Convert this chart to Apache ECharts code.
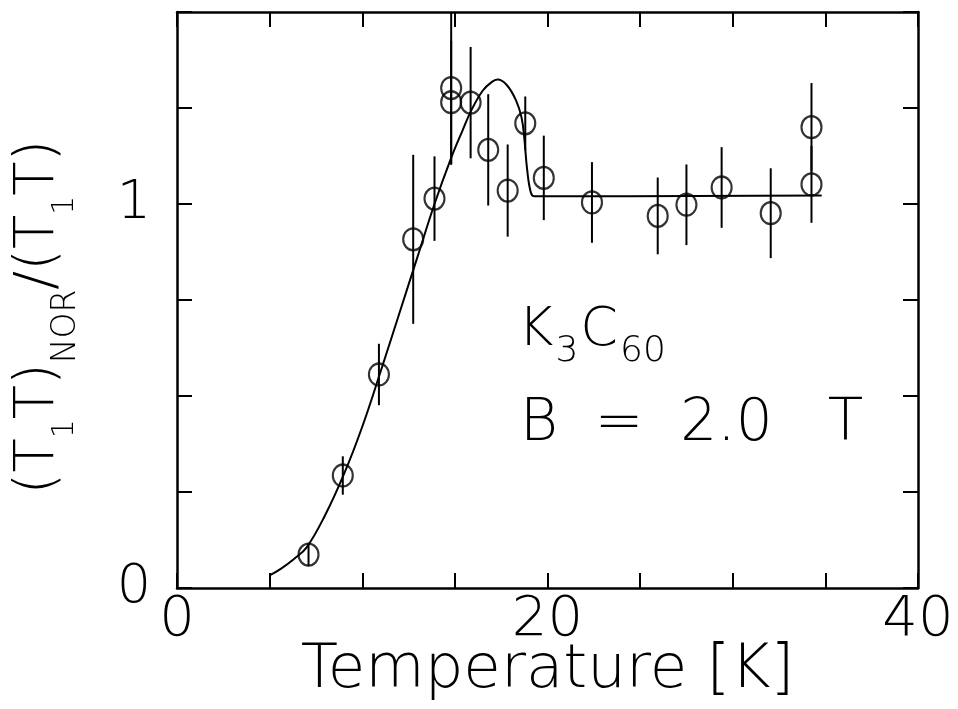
<!DOCTYPE html>
<html>
<head>
<meta charset="utf-8">
<script src="https://cdn.jsdelivr.net/npm/echarts@6/dist/echarts.min.js"></script>
<style>
  html, body { margin: 0; padding: 0; background: #fff; }
  #chart { width: 958px; height: 709px; }
</style>
</head>
<body>
<div id="chart"></div>
<script>
// measured points: temperature [K], (T1T)nor/(T1T), error half-length
var temps = [7.1, 8.95, 10.9, 12.75, 13.9, 14.8, 14.8, 15.85, 16.8, 17.85, 18.8, 19.8, 22.4, 25.95, 27.5, 29.4, 32.05, 34.25, 34.25]
var ratio = [0.087, 0.293, 0.556, 0.908, 1.014, 1.302, 1.265, 1.264, 1.141, 1.035, 1.21, 1.068, 1.004, 0.969, 0.998, 1.043, 0.976, 1.2, 1.051]
var errs  = [0.03, 0.05, 0.08, 0.22, 0.11, 0.2, 0.16, 0.145, 0.145, 0.12, 0.07, 0.11, 0.105, 0.1, 0.105, 0.105, 0.117, 0.115, 0.1]

// fitted curve
var fitT = [5.0, 5.6, 6.3, 7.0, 8.0, 9.0, 10.0, 11.0, 12.0, 13.0, 13.9, 14.8, 15.4, 15.9, 16.5, 17.0, 17.3, 17.8, 18.3, 18.6, 18.75, 18.9, 19.1, 19.3, 34.8]
var fitY = [0.033, 0.05, 0.075, 0.106, 0.19, 0.295, 0.42, 0.565, 0.715, 0.865, 1.0, 1.12, 1.19, 1.245, 1.295, 1.318, 1.324, 1.31, 1.27, 1.225, 1.17, 1.09, 1.03, 1.02, 1.022]

var xTickLabels = [0, 20, 40]
var yTickLabels = [0, 1]

var font = 'DejaVu Sans'
var chart = echarts.init(document.getElementById('chart'))

var pts = temps.map(function (t, i) { return [t, ratio[i]] })
var bars = temps.map(function (t, i) { return [t, ratio[i] - errs[i], ratio[i] + errs[i]] })
var curve = fitT.map(function (t, i) { return [t, fitY[i]] })

var tickStyle = { show: true, inside: true, length: 15, lineStyle: { color: '#000', width: 2 } }
var lineStyle = { show: true, onZero: false, lineStyle: { color: '#000', width: 2.5 } }

chart.setOption({
  animation: false,
  backgroundColor: '#fff',
  textStyle: { fontFamily: font, fontWeight: 200 },
  grid: { left: 177, right: 40, top: 12, bottom: 121, containLabel: false, outerBoundsMode: 'none' },
  xAxis: [{
    type: 'value', min: 0, max: 40, interval: 5,
    axisLine: lineStyle, axisTick: tickStyle, splitLine: { show: false },
    axisLabel: {
      margin: 4, color: '#000', fontSize: 56, fontFamily: font, fontWeight: 200,
      formatter: function (v) { return xTickLabels.indexOf(v) >= 0 ? String(v) : '' }
    },
    name: 'Temperature [K]', nameLocation: 'middle', nameGap: 53, nameMoveOverlap: false,
    nameTextStyle: { color: '#000', fontSize: 61, fontFamily: font, fontWeight: 200 }
  }, {
    type: 'value', min: 0, max: 40, interval: 5, position: 'top',
    axisLine: lineStyle, axisTick: tickStyle, splitLine: { show: false },
    axisLabel: { show: false }
  }],
  yAxis: [{
    type: 'value', min: 0, max: 1.5, interval: 0.25,
    axisLine: lineStyle, axisTick: tickStyle, splitLine: { show: false },
    axisLabel: {
      margin: 26, color: '#000', fontSize: 54, fontFamily: font, fontWeight: 200,
      formatter: function (v) { return yTickLabels.indexOf(v) >= 0 ? String(v) : '' }
    }
  }, {
    type: 'value', min: 0, max: 1.5, interval: 0.25, position: 'right',
    axisLine: lineStyle, axisTick: tickStyle, splitLine: { show: false },
    axisLabel: { show: false }
  }],
  series: [{
    type: 'line',
    data: curve,
    smooth: 0.4,
    symbol: 'none',
    lineStyle: { color: '#000', width: 2 },
    z: 3
  }, {
    type: 'custom',
    data: bars,
    clip: true,
    renderItem: function (params, api) {
      var lo = api.coord([api.value(0), api.value(1)])
      var hi = api.coord([api.value(0), api.value(2)])
      return {
        type: 'line',
        shape: { x1: lo[0], y1: lo[1], x2: hi[0], y2: hi[1] },
        style: { stroke: '#000', lineWidth: 2 }
      }
    },
    z: 4
  }, {
    type: 'scatter',
    data: pts,
    symbol: 'circle',
    symbolSize: [20, 22],
    itemStyle: { color: 'rgba(0,0,0,0)', borderColor: '#000', borderWidth: 2.2 },
    z: 5
  }],
  graphic: [{
    // y axis title, rotated
    type: 'text', x: 40, y: 317, rotation: Math.PI / 2,
    style: {
      text: '{m|(T}{s|1}{m|T)}{n|NOR}{m|/(T}{s|1}{m|T)}',
      align: 'center', verticalAlign: 'middle',
      rich: {
        m: { fontSize: 56, lineHeight: 60, verticalAlign: 'top', fontFamily: font, fontWeight: 200, fill: '#000' },
        s: { fontSize: 30, lineHeight: 30, padding: [40, 0, 0, 0], verticalAlign: 'top', fontFamily: font, fontWeight: 200, fill: '#000' },
        n: { fontSize: 33, lineHeight: 33, padding: [40, 0, 0, 0], verticalAlign: 'top', fontFamily: font, fontWeight: 200, fill: '#000' }
      }
    }
  }, {
    type: 'text', left: 518, top: 304,
    style: {
      text: '{m|K}{s|3}{m|C}{s|60}',
      rich: {
        m: { fontSize: 54, lineHeight: 54, verticalAlign: 'top', fontFamily: font, fontWeight: 200, fill: '#000' },
        s: { fontSize: 36, lineHeight: 36, padding: [30, 2, 0, 2], verticalAlign: 'top', fontFamily: font, fontWeight: 200, fill: '#000' }
      }
    }
  }, {
    type: 'text', left: 520, top: 396,
    style: { text: 'B  =  2.0   T', fontSize: 58, fontFamily: font, fontWeight: 200, fill: '#000' }
  }]
})
</script>
</body>
</html>
